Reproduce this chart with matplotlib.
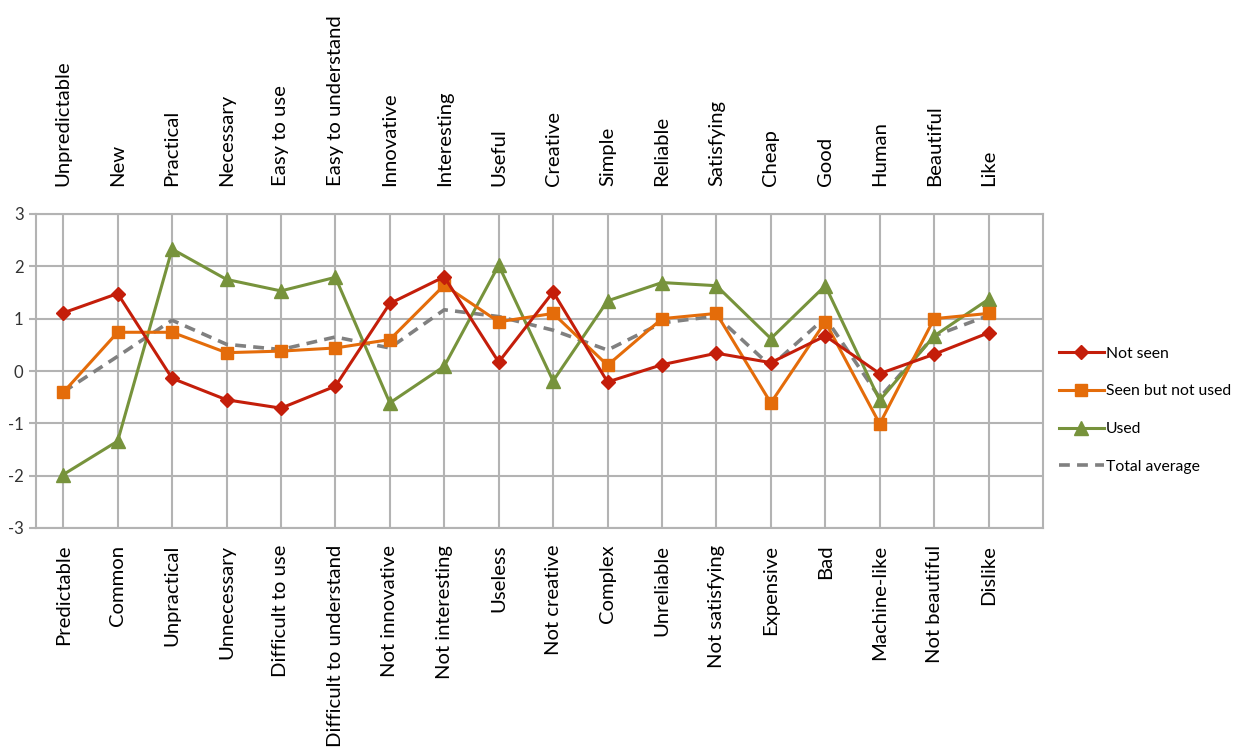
import matplotlib
matplotlib.use("Agg")
import matplotlib.pyplot as plt

top_labels = ["Unpredictable", "New", "Practical", "Necessary", "Easy to use",
              "Easy to understand", "Innovative", "Interesting", "Useful", "Creative",
              "Simple", "Reliable", "Satisfying", "Cheap", "Good", "Human",
              "Beautiful", "Like"]
bottom_labels = ["Predictable", "Common", "Unpractical", "Unnecessary", "Difficult to use",
                 "Difficult to understand", "Not innovative", "Not interesting", "Useless",
                 "Not creative", "Complex", "Unreliable", "Not satisfying", "Expensive",
                 "Bad", "Machine-like", "Not beautiful", "Dislike"]

not_seen = [1.11, 1.48, -0.14, -0.55, -0.71, -0.29, 1.29, 1.80, 0.17, 1.51,
            -0.21, 0.12, 0.34, 0.16, 0.67, -0.05, 0.32, 0.73]
seen_not_used = [-0.41, 0.74, 0.74, 0.35, 0.38, 0.44, 0.60, 1.64, 0.94, 1.10,
                 0.11, 1.00, 1.10, -0.61, 0.94, -1.01, 1.00, 1.10]
used = [-1.98, -1.34, 2.33, 1.75, 1.53, 1.79, -0.61, 0.09, 2.02, -0.19,
        1.34, 1.69, 1.63, 0.62, 1.63, -0.56, 0.67, 1.37]
total_average = [-0.40, 0.28, 0.97, 0.51, 0.41, 0.65, 0.44, 1.17, 1.04, 0.78,
                 0.40, 0.92, 1.05, 0.09, 1.02, -0.51, 0.67, 1.06]

y_ticks = [-3, -2, -1, 0, 1, 2, 3]

plt.rcParams['font.family'] = ['Lato', 'DejaVu Sans']

fig = plt.figure(figsize=(12.39, 7.54), dpi=100)
ax = fig.add_axes([36/1239, 1-528/754, (1043-36)/1239, (528-214)/754])

x = list(range(len(top_labels)))
grid_c = '#b3b3b3'

ax.plot(x, not_seen, color='#C41E0A', lw=2.2, marker='D', ms=7.5, label='Not seen', zorder=4)
ax.plot(x, seen_not_used, color='#E46C0A', lw=2.2, marker='s', ms=9, label='Seen but not used', zorder=3)
ax.plot(x, used, color='#77933C', lw=2.2, marker='^', ms=10, label='Used', zorder=2)
ax.plot(x, total_average, color='#808080', lw=2.6, ls=(0, (3, 2)), label='Total average', zorder=1)

ax.set_xlim(-0.5, len(x))
ax.set_ylim(-3, 3)
ax.set_yticks(y_ticks)
ax.set_yticklabels([str(v) for v in y_ticks], fontsize=12, color='#333333')
ax.set_xticks(x)
ax.set_xticklabels(bottom_labels, rotation=90, fontsize=14.6, va='top', ha='center')
ax.tick_params(axis='x', length=0, pad=12)
ax.tick_params(axis='y', length=5, color=grid_c, width=1.5, pad=4)
ax.grid(True, color=grid_c, lw=1.5)
ax.set_axisbelow(True)
for s in ax.spines.values():
    s.set_color(grid_c)
    s.set_linewidth(1.5)

ax2 = ax.twiny()
ax2.set_xlim(ax.get_xlim())
ax2.set_xticks(x)
ax2.set_xticklabels(top_labels, rotation=90, fontsize=14.6, va='bottom', ha='center')
ax2.tick_params(axis='x', length=0, pad=20)
for s in ax2.spines.values():
    s.set_visible(False)

ax.legend(loc='center left', bbox_to_anchor=(1.0, 0.375), frameon=False, fontsize=11.3,
          handlelength=2.9, labelspacing=1.5, handletextpad=0.1, borderaxespad=0.6)

fig.savefig('out.png', dpi=100)
